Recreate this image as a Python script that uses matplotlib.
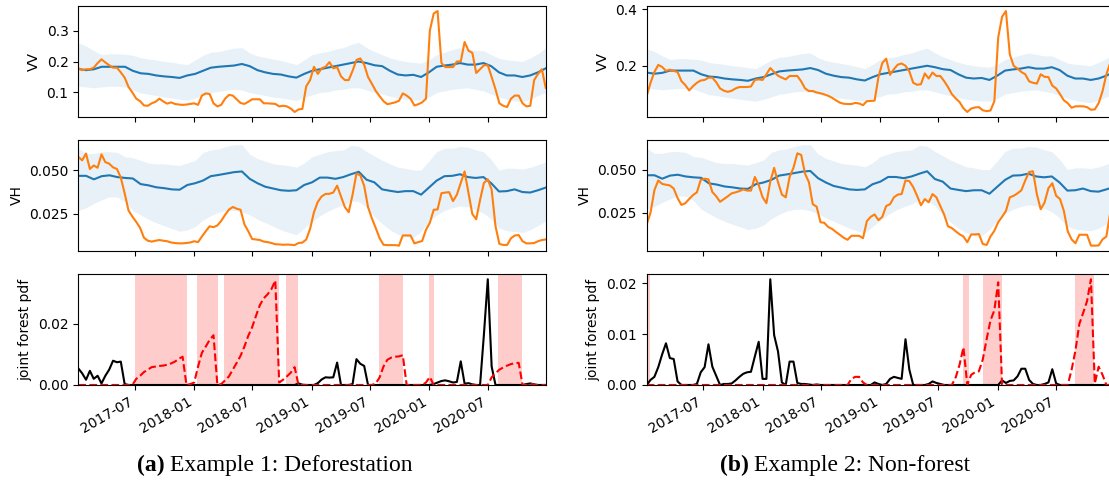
import matplotlib.pyplot as plt
import matplotlib.dates as mdates
import pandas as pd

# Sentinel-1 acquisitions every 12 days; the forest reference is on a coarser grid
dates = pd.date_range('2017-01-06', periods=122, freq='12D')
dates_ref = pd.date_range('2017-01-06', '2020-12-28', periods=61)

# forest reference: mean and band, the same in both examples
vv_mean = [0.176, 0.172, 0.175, 0.183, 0.183, 0.183, 0.183, 0.17, 0.162, 0.16,
           0.155, 0.152, 0.15, 0.147, 0.155, 0.16, 0.17, 0.18, 0.183, 0.185,
           0.187, 0.192, 0.185, 0.172, 0.165, 0.16, 0.158, 0.152, 0.148, 0.16,
           0.17, 0.175, 0.18, 0.185, 0.19, 0.195, 0.2, 0.195, 0.188, 0.185,
           0.17, 0.158, 0.155, 0.157, 0.15, 0.165, 0.183, 0.187, 0.19, 0.195,
           0.19, 0.19, 0.195, 0.185, 0.165, 0.155, 0.155, 0.15, 0.155, 0.165, 0.178]
vv_hi = [0.26, 0.25, 0.235, 0.222, 0.225, 0.225, 0.223, 0.22, 0.212, 0.208,
         0.205, 0.2, 0.198, 0.193, 0.19, 0.205, 0.22, 0.23, 0.232, 0.238,
         0.243, 0.245, 0.228, 0.218, 0.213, 0.208, 0.203, 0.197, 0.19, 0.205,
         0.222, 0.228, 0.232, 0.24, 0.245, 0.255, 0.262, 0.245, 0.232, 0.222,
         0.212, 0.205, 0.2, 0.197, 0.195, 0.205, 0.222, 0.23, 0.238, 0.245,
         0.24, 0.235, 0.235, 0.222, 0.21, 0.205, 0.203, 0.2, 0.212, 0.225, 0.245]
vv_lo = [0.12, 0.118, 0.115, 0.118, 0.12, 0.12, 0.118, 0.108, 0.098, 0.095,
         0.09, 0.085, 0.082, 0.078, 0.075, 0.082, 0.09, 0.1, 0.103, 0.108,
         0.11, 0.108, 0.1, 0.095, 0.09, 0.085, 0.082, 0.078, 0.074, 0.085,
         0.092, 0.1, 0.102, 0.108, 0.11, 0.115, 0.115, 0.108, 0.1, 0.095,
         0.088, 0.082, 0.078, 0.076, 0.075, 0.085, 0.1, 0.105, 0.11, 0.113,
         0.115, 0.11, 0.105, 0.095, 0.085, 0.078, 0.073, 0.07, 0.078, 0.09, 0.1]
vh_mean = [0.0467, 0.0467, 0.0447, 0.0465, 0.047, 0.046, 0.0455, 0.0452, 0.042, 0.0413,
           0.0402, 0.0397, 0.039, 0.0388, 0.0415, 0.0425, 0.044, 0.0465, 0.0472, 0.048,
           0.0488, 0.0492, 0.045, 0.0425, 0.0405, 0.0395, 0.0385, 0.0382, 0.0385, 0.0415,
           0.043, 0.0457, 0.0457, 0.045, 0.046, 0.0476, 0.049, 0.0445, 0.043, 0.039,
           0.0382, 0.0375, 0.038, 0.038, 0.036, 0.04, 0.044, 0.0465, 0.0467, 0.0476,
           0.046, 0.0455, 0.046, 0.0425, 0.0378, 0.038, 0.039, 0.0375, 0.0372, 0.0385, 0.04]
vh_hi = [0.0624, 0.0594, 0.0594, 0.0604, 0.0604, 0.06, 0.0575, 0.057, 0.0555, 0.054,
         0.0535, 0.0535, 0.053, 0.0526, 0.054, 0.0555, 0.06, 0.0614, 0.062, 0.0634,
         0.0644, 0.0644, 0.059, 0.0565, 0.055, 0.0535, 0.053, 0.0525, 0.0516, 0.054,
         0.0575, 0.059, 0.0604, 0.061, 0.0614, 0.064, 0.0635, 0.0605, 0.058, 0.0555,
         0.0535, 0.0516, 0.051, 0.05, 0.05, 0.055, 0.0605, 0.0624, 0.0624, 0.0634,
         0.063, 0.0615, 0.0604, 0.056, 0.05, 0.051, 0.051, 0.0506, 0.0515, 0.053, 0.0545]
vh_lo = [0.027, 0.0285, 0.031, 0.033, 0.0348, 0.0345, 0.032, 0.027, 0.0245, 0.022,
         0.02, 0.0183, 0.0168, 0.0152, 0.016, 0.0178, 0.0215, 0.024, 0.026, 0.027,
         0.027, 0.0262, 0.0245, 0.022, 0.02, 0.018, 0.016, 0.0145, 0.0132, 0.017,
         0.0205, 0.024, 0.0265, 0.0285, 0.03, 0.0325, 0.032, 0.029, 0.0235, 0.0195,
         0.016, 0.0135, 0.012, 0.0116, 0.0152, 0.0205, 0.0245, 0.027, 0.0285, 0.0295,
         0.029, 0.0275, 0.0255, 0.022, 0.017, 0.0155, 0.015, 0.0145, 0.016, 0.0185, 0.021]

# example 1: deforestation
vv_a = [0.178, 0.172, 0.175, 0.175, 0.18, 0.195, 0.207, 0.197, 0.188, 0.18,
        0.18, 0.165, 0.148, 0.118, 0.1, 0.08, 0.072, 0.058, 0.057, 0.065,
        0.07, 0.08, 0.071, 0.064, 0.068, 0.063, 0.061, 0.06, 0.061, 0.063,
        0.065, 0.06, 0.09, 0.097, 0.095, 0.065, 0.055, 0.06, 0.08, 0.092,
        0.09, 0.078, 0.066, 0.063, 0.07, 0.078, 0.078, 0.078, 0.065, 0.065,
        0.064, 0.063, 0.055, 0.057, 0.055, 0.048, 0.037, 0.045, 0.047, 0.12,
        0.14, 0.183, 0.16, 0.178, 0.183, 0.198, 0.178, 0.182, 0.152, 0.14,
        0.14, 0.17, 0.205, 0.21, 0.19, 0.15, 0.128, 0.105, 0.088, 0.072,
        0.062, 0.065, 0.068, 0.073, 0.097, 0.09, 0.08, 0.058, 0.062, 0.068,
        0.08, 0.3, 0.355, 0.363, 0.195, 0.182, 0.182, 0.182, 0.2, 0.2,
        0.263, 0.235, 0.228, 0.163, 0.175, 0.188, 0.188, 0.15, 0.11, 0.065,
        0.057, 0.053, 0.08, 0.09, 0.09, 0.065, 0.055, 0.057, 0.14, 0.16,
        0.175, 0.115]
vh_a = [0.0575, 0.0555, 0.0594, 0.0506, 0.0526, 0.0513, 0.0589, 0.0545, 0.0536, 0.0515,
        0.0506, 0.0457, 0.0368, 0.027, 0.0235, 0.0205, 0.0171, 0.0115, 0.0098, 0.0093,
        0.0098, 0.0102, 0.0098, 0.0095, 0.0088, 0.0085, 0.0083, 0.0083, 0.0085, 0.0088,
        0.0095, 0.009, 0.0122, 0.0152, 0.018, 0.0175, 0.0185, 0.0211, 0.0245, 0.0275,
        0.029, 0.028, 0.0274, 0.0191, 0.0152, 0.0108, 0.0105, 0.0102, 0.0093, 0.009,
        0.0085, 0.0078, 0.0077, 0.0075, 0.0076, 0.0075, 0.0073, 0.0085, 0.0087, 0.0105,
        0.0165, 0.026, 0.0319, 0.035, 0.0364, 0.0365, 0.0372, 0.0411, 0.035, 0.0289,
        0.026, 0.036, 0.048, 0.047, 0.041, 0.0289, 0.0225, 0.017, 0.0112, 0.0075,
        0.0073, 0.0073, 0.0073, 0.007, 0.0128, 0.0128, 0.0128, 0.0083, 0.009, 0.0096,
        0.016, 0.02, 0.0274, 0.0276, 0.0368, 0.0372, 0.0374, 0.0323, 0.036, 0.0427,
        0.0492, 0.037, 0.025, 0.022, 0.033, 0.0427, 0.0447, 0.0388, 0.018, 0.008,
        0.0074, 0.0074, 0.0112, 0.0128, 0.013, 0.0095, 0.0083, 0.0083, 0.0085, 0.0095,
        0.0102, 0.0105]
pdf_forest_a = [0.0054, 0.0038, 0.0017, 0.0046, 0.002, 0.003, 0.0005, 0.003, 0.005, 0.0079,
                0.0074, 0.0076, 0.0003, 0, 0, 0, 0, 0, 0, 0,
                0, 0, 0, 0, 0, 0, 0, 0, 0, 0,
                0, 0, 0, 0, 0, 0, 0, 0, 0, 0,
                0, 0, 0, 0, 0, 0, 0, 0, 0, 0,
                0, 0, 0, 0, 0, 0, 0, 0.0005, 0.0001, 0,
                0, 0, 0.0006, 0.0018, 0.0025, 0.0024, 0.0025, 0.0073, 0, 0,
                0, 0.0003, 0.0084, 0.0069, 0.0062, 0, 0, 0, 0, 0,
                0, 0, 0, 0, 0, 0, 0, 0, 0, 0,
                0, 0, 0.0003, 0.0008, 0.0013, 0.0015, 0.0012, 0.0008, 0.001, 0.0077,
                0.0004, 0.0006, 0.0002, 0, 0, 0.0165, 0.0344, 0.006, 0, 0,
                0, 0, 0, 0, 0, 0, 0.0003, 0.0005, 0.0002, 0,
                0, 0]
pdf_change_a = [0, 0, 0, 0, 0, 0, 0, 0, 0, 0,
                0, 0, 0, 0, 0, 0.002, 0.003, 0.0042, 0.005, 0.0058,
                0.006, 0.0062, 0.0063, 0.0066, 0.007, 0.0076, 0.0085, 0.0092, 0, 0.0003,
                0.0008, 0.006, 0.0105, 0.0125, 0.0147, 0.0162, 0, 0.0003, 0.0015, 0.0028,
                0.005, 0.0072, 0.0095, 0.0125, 0.016, 0.0188, 0.0225, 0.026, 0.0282, 0.0295,
                0.0312, 0.034, 0.0008, 0.0017, 0.0028, 0.004, 0.0058, 0, 0, 0,
                0, 0, 0, 0, 0, 0, 0, 0, 0, 0,
                0, 0, 0, 0, 0, 0, 0, 0.0005, 0.0025, 0.006,
                0.0082, 0.0089, 0.0092, 0.0093, 0.0097, 0, 0, 0, 0, 0,
                0.0008, 0.0026, 0, 0, 0, 0, 0, 0, 0, 0,
                0, 0, 0, 0, 0, 0, 0, 0.0025, 0.0038, 0.005,
                0.0057, 0.0063, 0.0068, 0.0071, 0.0072, 0, 0, 0.0005, 0, 0,
                0, 0]
spans_a = [('2017-07-01', '2017-12-09'), ('2018-01-11', '2018-03-16'),
           ('2018-04-03', '2018-09-21'), ('2018-10-14', '2018-11-21'),
           ('2019-07-29', '2019-10-11'), ('2019-12-30', '2020-01-16'),
           ('2020-08-03', '2020-10-16')]

# example 2: non-forest
vv_b = [0.093, 0.14, 0.178, 0.203, 0.196, 0.182, 0.186, 0.182, 0.178, 0.146,
        0.132, 0.113, 0.128, 0.14, 0.148, 0.15, 0.158, 0.158, 0.142, 0.12,
        0.112, 0.108, 0.112, 0.12, 0.125, 0.125, 0.125, 0.127, 0.15, 0.152,
        0.15, 0.17, 0.192, 0.178, 0.165, 0.158, 0.152, 0.164, 0.164, 0.164,
        0.145, 0.12, 0.111, 0.111, 0.106, 0.103, 0.099, 0.094, 0.087, 0.078,
        0.07, 0.066, 0.065, 0.065, 0.069, 0.067, 0.061, 0.075, 0.076, 0.077,
        0.16, 0.21, 0.225, 0.168, 0.188, 0.204, 0.208, 0.2, 0.18, 0.14,
        0.133, 0.135, 0.173, 0.155, 0.176, 0.164, 0.164, 0.146, 0.125, 0.1,
        0.085, 0.072, 0.05, 0.037, 0.049, 0.053, 0.054, 0.043, 0.04, 0.042,
        0.075, 0.3, 0.373, 0.393, 0.24, 0.2, 0.19, 0.178, 0.17, 0.145,
        0.14, 0.137, 0.17, 0.161, 0.16, 0.13, 0.12, 0.1, 0.078, 0.068,
        0.052, 0.057, 0.057, 0.057, 0.054, 0.045, 0.046, 0.068, 0.11, 0.17,
        0.21, 0.22]
vh_b = [0.0181, 0.025, 0.038, 0.0437, 0.0417, 0.0412, 0.0408, 0.039, 0.0335, 0.0295,
        0.0305, 0.0329, 0.0352, 0.0368, 0.044, 0.0447, 0.0443, 0.037, 0.0345, 0.0313,
        0.0329, 0.0345, 0.0362, 0.0368, 0.0375, 0.0385, 0.0378, 0.0378, 0.0457, 0.041,
        0.034, 0.0305, 0.043, 0.051, 0.0427, 0.0355, 0.0339, 0.0457, 0.051, 0.0594,
        0.0585, 0.0476, 0.0427, 0.0299, 0.0285, 0.0195, 0.0191, 0.0167, 0.0156, 0.0138,
        0.0122, 0.0105, 0.0093, 0.0116, 0.0116, 0.0116, 0.0102, 0.0201, 0.0226, 0.024,
        0.0207, 0.0226, 0.0289, 0.0299, 0.0339, 0.0355, 0.0358, 0.0437, 0.0433, 0.0398,
        0.0348, 0.0293, 0.0329, 0.031, 0.0358, 0.0339, 0.0289, 0.024, 0.0171, 0.0161,
        0.0142, 0.0125, 0.0112, 0.0079, 0.0124, 0.0124, 0.0126, 0.0069, 0.0063, 0.0112,
        0.0145, 0.0195, 0.0226, 0.026, 0.0339, 0.0348, 0.0362, 0.038, 0.0437, 0.0486,
        0.049, 0.0358, 0.027, 0.0309, 0.0392, 0.0421, 0.0348, 0.0329, 0.026, 0.0142,
        0.0095, 0.0073, 0.0122, 0.0122, 0.0122, 0.0059, 0.0059, 0.006, 0.0095, 0.0112,
        0.025, 0.028]
pdf_forest_b = [0, 0.001, 0.0016, 0.0035, 0.006, 0.0082, 0.0053, 0.0051, 0.0007, 0,
                0, 0, 0, 0.0002, 0.0025, 0.0035, 0.008, 0.0036, 0.0018, 0,
                0.0002, 0.0002, 0.0003, 0.0009, 0.0016, 0.0022, 0.0025, 0.0026, 0.0056, 0.0085,
                0.0012, 0.0012, 0.0208, 0.0098, 0.0066, 0.0005, 0, 0.0046, 0.0046, 0.0004,
                0.0002, 0.0002, 0.0001, 0, 0.0001, 0, 0, 0, 0, 0,
                0, 0, 0, 0, 0, 0, 0, 0, 0, 0.0005,
                0.0002, 0, 0.0002, 0.0012, 0.0016, 0.0014, 0.0012, 0.009, 0.003, 0,
                0, 0, 0, 0.0002, 0.0007, 0.0004, 0.0002, 0, 0, 0,
                0, 0, 0, 0, 0, 0, 0, 0, 0, 0,
                0, 0, 0.0009, 0.0004, 0.0008, 0.0009, 0.0017, 0.0032, 0.0032, 0.001,
                0.0002, 0, 0, 0.0002, 0.0005, 0.0031, 0.0003, 0, 0, 0,
                0, 0, 0, 0, 0, 0, 0, 0, 0, 0,
                0, 0]
pdf_change_b = [0, 0, 0, 0, 0, 0, 0, 0, 0, 0,
                0, 0, 0, 0, 0, 0, 0, 0, 0, 0,
                0, 0, 0, 0, 0, 0, 0, 0, 0, 0,
                0, 0, 0, 0, 0, 0, 0, 0, 0, 0,
                0, 0, 0, 0, 0, 0, 0, 0, 0, 0,
                0, 0, 0, 0.0012, 0.0016, 0.0016, 0.0005, 0, 0, 0,
                0, 0, 0, 0, 0, 0, 0, 0, 0, 0,
                0, 0, 0, 0, 0, 0, 0, 0, 0, 0,
                0.0015, 0.004, 0.0074, 0, 0.002, 0.0025, 0.0027, 0.005, 0.009, 0.0127,
                0.0147, 0.0202, 0, 0, 0, 0, 0, 0, 0, 0,
                0, 0, 0, 0, 0, 0, 0, 0, 0, 0,
                0.003, 0.0068, 0.012, 0.0142, 0.0165, 0.0208, 0.0003, 0.0036, 0.002, 0,
                0, 0]
spans_b = [('2017-01-06', '2017-01-17'), ('2019-09-17', '2019-10-03'),
           ('2019-11-16', '2020-01-16'), ('2020-08-27', '2020-10-28')]

fig = plt.figure(figsize=(11.09, 4.88), dpi=100)


def draw_column(x0, vv, vh, pdf_forest, pdf_change, spans, ticks):
    rows = [0.7602, 0.4863, 0.2111]
    axes = [fig.add_axes([x0, b, 0.4215, 0.2275]) for b in rows]
    ax_vv, ax_vh, ax_pdf = axes

    ax_vv.fill_between(dates_ref, vv_lo, vv_hi, color='C0', alpha=0.1, lw=0)
    ax_vv.plot(dates_ref, vv_mean, 'C0')
    ax_vv.plot(dates, vv, 'C1')
    ax_vv.set_ylabel('VV')

    ax_vh.fill_between(dates_ref, vh_lo, vh_hi, color='C0', alpha=0.1, lw=0)
    ax_vh.plot(dates_ref, vh_mean, 'C0')
    ax_vh.plot(dates, vh, 'C1')
    ax_vh.set_ylabel('VH')

    for s, e in spans:
        ax_pdf.axvspan(pd.Timestamp(s), pd.Timestamp(e), color='red', alpha=0.2, lw=0)
    ax_pdf.plot(dates, pdf_forest, 'k')
    ax_pdf.plot(dates, pdf_change, 'r--')
    ax_pdf.set_ylim(bottom=0)
    ax_pdf.set_ylabel('joint forest pdf')

    for ax, t in zip(axes, ticks):
        ax.set_xlim(dates[0], dates[-1])
        ax.set_yticks(t)
        ax.xaxis.set_major_locator(mdates.MonthLocator(bymonth=[1, 7]))
        ax.xaxis.set_major_formatter(mdates.DateFormatter('%Y-%m'))
    ax_vv.tick_params(labelbottom=False)
    ax_vh.tick_params(labelbottom=False)
    for lbl in ax_pdf.get_xticklabels():
        lbl.set_rotation(30)
        lbl.set_ha('right')
    return axes


draw_column(0.0706, vv_a, vh_a, pdf_forest_a, pdf_change_a, spans_a,
            [[0.1, 0.2, 0.3], [0.025, 0.05], [0.0, 0.02]])
draw_column(0.5831, vv_b, vh_b, pdf_forest_b, pdf_change_b, spans_b,
            [[0.2, 0.4], [0.025, 0.05], [0.0, 0.01, 0.02]])

# sub-captions: bold label, then the plain text right after it
serif = 'Liberation Serif'
renderer = fig.canvas.get_renderer()
for x_px, tag, caption in [(137, '(a)', 'Example 1: Deforestation'),
                           (720, '(b)', 'Example 2: Non-forest')]:
    t = fig.text(x_px / 1109, 0.047, tag, ha='left', va='center', family=serif,
                 weight='bold', size=17)
    bb = t.get_window_extent(renderer)
    fig.text((bb.x1 + 5) / 1109, 0.047, caption, ha='left', va='center',
             family=serif, size=17)

fig.savefig('out.png', dpi=100)
